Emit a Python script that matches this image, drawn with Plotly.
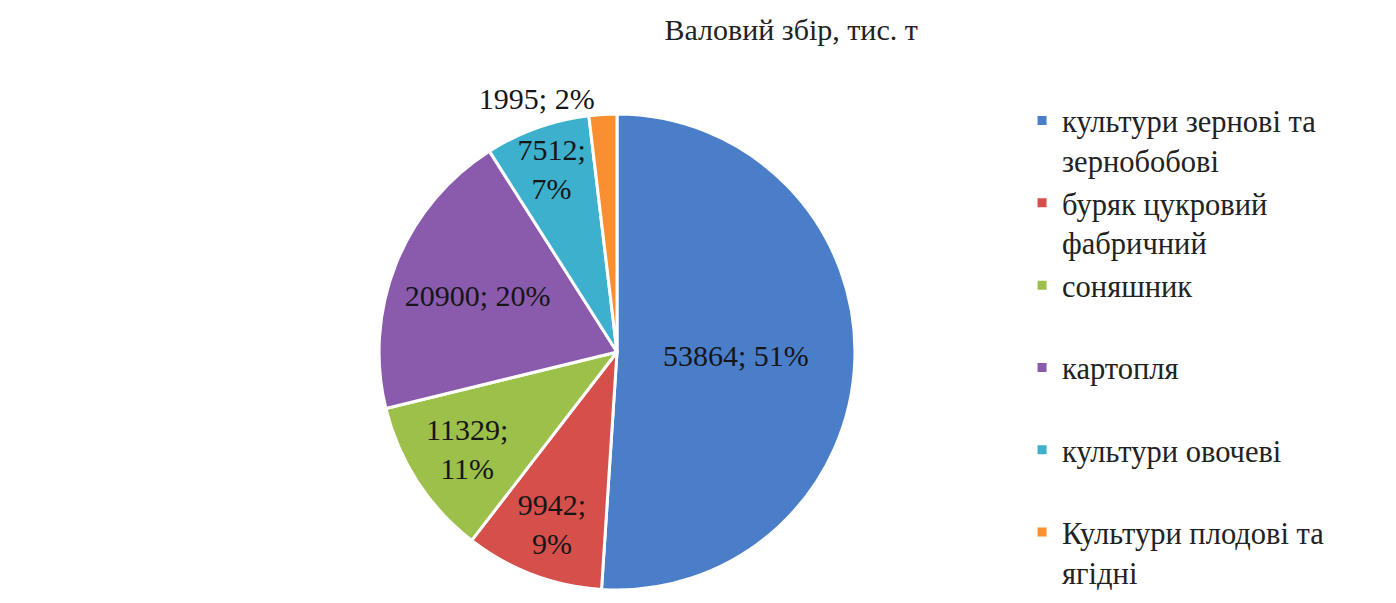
import plotly.graph_objects as go

categories = [
    "культури зернові та<br>зернобобові",
    "буряк цукровий<br>фабричний",
    "соняшник<br> ",
    "картопля<br> ",
    "культури овочеві<br> ",
    "Культури плодові та<br>ягідні",
]
values = [53864, 9942, 11329, 20900, 7512, 1995]
label_sep = ["; ", ";<br>", ";<br>", "; ", ";<br>", "; "]
text_pos = ["inside", "inside", "inside", "inside", "inside", "outside"]
colors = ["#4A7EC9", "#D5504A", "#9CC04A", "#8A5BAD", "#3CB0CD", "#F98F31"]

total = sum(values)
labels_txt = [f"{v}{s}{round(v / total * 100)}%" for v, s in zip(values, label_sep)]

fig = go.Figure()
fig.add_trace(go.Pie(
    labels=categories,
    values=values,
    text=labels_txt,
    textinfo="text",
    textposition=text_pos,
    insidetextorientation="horizontal",
    sort=False,
    direction="clockwise",
    rotation=0,
    marker=dict(colors=colors, line=dict(color="white", width=3)),
    textfont=dict(family="Liberation Serif", size=30, color="#161616"),
    domain=dict(x=[0.2658, 0.6067], y=[0.0348, 0.8242]),
    hoverinfo="label+value+percent",
    automargin=False,
))

fig.update_layout(
    width=1396, height=603,
    margin=dict(l=0, r=0, t=0, b=0, autoexpand=False),
    paper_bgcolor="white",
    plot_bgcolor="white",
    title=dict(text="Валовий збір, тис. т", x=0.561, xanchor="center", y=0.965, yanchor="middle",
               font=dict(family="Liberation Serif", size=30, color="#222222")),
    showlegend=True,
    legend=dict(
        x=0.7264, y=0.857, xanchor="left", yanchor="top",
        font=dict(family="Liberation Serif", size=30.5, color="#222222"),
        valign="top",
        maxheight=900,
        bgcolor="rgba(0,0,0,0)",
    ),
    uniformtext=dict(minsize=28, mode="show"),
)

fig.write_html("out.html")
